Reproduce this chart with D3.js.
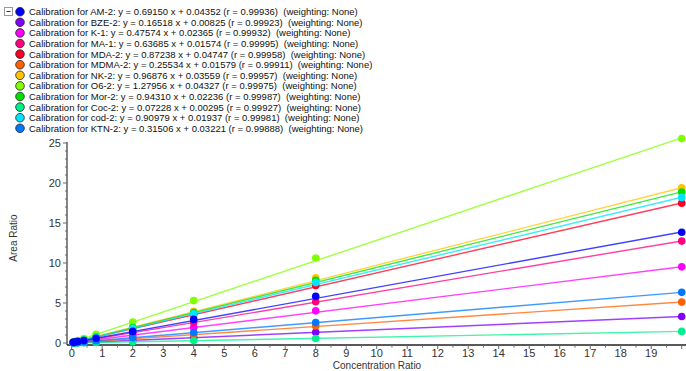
<!DOCTYPE html>
<html>
<head>
<meta charset="utf-8">
<script src="https://cdn.jsdelivr.net/npm/d3@7"></script>
<style>
  body { margin:0; background:#fff; }
  text { font-family: "Liberation Sans", Arial, sans-serif; }
</style>
</head>
<body>
<script>
// calibration data
var names = ["AM-2","BZE-2","K-1","MA-1","MDA-2","MDMA-2","NK-2","O6-2","Mor-2","Coc-2","cod-2","KTN-2"];
var slopes = [0.69150,0.16518,0.47574,0.63685,0.87238,0.25534,0.96876,1.27956,0.94310,0.07228,0.90979,0.31506];
var intercepts = [0.04352,0.00825,0.02365,0.01574,0.04747,0.01579,0.03559,0.04327,0.02236,0.00295,0.01937,0.03221];
var rvals = ["0.99936","0.99923","0.99932","0.99995","0.99958","0.99911","0.99957","0.99975","0.99987","0.99927","0.99981","0.99888"];
var colors = ["#0000ff","#8000ff","#ff00ff","#ff0080","#ff0024","#ff6000","#ffc400","#80ff00","#00e000","#00f08c","#00e4ff","#0078ff"];
var concs = [0.05,0.1,0.2,0.4,0.8,2,4,8,20];
var areas = [
  [0.08,0.11,0.18,0.32,0.60,1.45,2.95,5.85,13.85],
  [0.02,0.03,0.04,0.07,0.14,0.34,0.68,1.33,3.31],
  [0.05,0.07,0.12,0.21,0.40,0.98,1.95,4.02,9.52],
  [0.05,0.08,0.14,0.27,0.52,1.29,2.58,5.15,12.74],
  [0.09,0.13,0.22,0.40,0.75,1.80,3.55,7.20,17.48],
  [0.03,0.04,0.07,0.12,0.22,0.53,1.05,2.12,5.11],
  [0.08,0.13,0.23,0.43,0.82,1.98,3.95,8.15,19.39],
  [0.11,0.17,0.30,0.56,1.10,2.62,5.30,10.62,25.55],
  [0.07,0.12,0.21,0.40,0.78,1.92,3.80,7.85,18.88],
  [0.01,0.01,0.02,0.03,0.06,0.15,0.30,0.56,1.45],
  [0.06,0.11,0.20,0.38,0.75,1.84,3.66,7.55,18.20],
  [0.05,0.06,0.10,0.16,0.29,0.67,1.30,2.55,6.33]
];
var xTicks = d3.range(0,20);
var yTicks = [0,5,10,15,20,25];

var W=686, H=371;
var svg = d3.select("body").append("svg").attr("width",W).attr("height",H);

var x = d3.scaleLinear().domain([-0.154,20.14]).range([67,686]);
var y = d3.scaleLinear().domain([-0.25,25.125]).range([345,142]);

// legend
var leg = svg.append("g");
leg.append("rect").attr("x",4.5).attr("y",7.5).attr("width",8).attr("height",8)
  .attr("fill","#fff").attr("stroke","#999");
leg.append("line").attr("x1",6.5).attr("x2",10.5).attr("y1",11.5).attr("y2",11.5).attr("stroke","#333");
names.forEach(function(n,i){
  var ly = 11.7 + i*10.6;
  leg.append("circle").attr("cx",20).attr("cy",ly).attr("r",4.3)
    .attr("fill",colors[i]).attr("stroke","#222").attr("stroke-width",0.8);
  leg.append("text").attr("x",29).attr("y",ly+3.5).attr("font-size","9.5px").attr("fill","#111")
    .attr("xml:space","preserve")
    .text("Calibration for "+n+": y = "+slopes[i].toFixed(5)+" x + "+intercepts[i].toFixed(5)+" (r = "+rvals[i]+")  (weighting: None)");
});

// axes
var yAxis = svg.append("g");
yAxis.append("line").attr("x1",67).attr("x2",67).attr("y1",y(25.125)).attr("y2",345)
  .attr("stroke","#666").attr("stroke-width",1.6);
yAxis.selectAll(".ym").data(d3.range(0,26)).enter().append("line")
  .attr("x1",function(d){return d%5==0?63:65;}).attr("x2",67)
  .attr("y1",function(d){return y(d);}).attr("y2",function(d){return y(d);})
  .attr("stroke","#666");
yAxis.selectAll(".yl").data(yTicks).enter().append("text")
  .attr("x",61).attr("y",function(d){return y(d)+4;}).attr("text-anchor","end")
  .attr("font-size","11px").attr("fill","#333").text(function(d){return d;});
svg.append("text").attr("transform","translate(17,238) rotate(-90)").attr("text-anchor","middle")
  .attr("font-size","10px").attr("fill","#333").text("Area Ratio");

var xAxis = svg.append("g");
xAxis.append("line").attr("x1",67).attr("x2",686).attr("y1",345).attr("y2",345)
  .attr("stroke","#222").attr("stroke-width",1.6);
xAxis.selectAll(".xm").data(d3.range(0,40.5).map(function(d){return d/2;})).enter().append("line")
  .attr("x1",function(d){return x(d);}).attr("x2",function(d){return x(d);})
  .attr("y1",345).attr("y2",function(d){return d%1==0?349:347.5;})
  .attr("stroke","#666");
xAxis.selectAll(".xl").data(xTicks).enter().append("text")
  .attr("x",function(d){return x(d);}).attr("y",357).attr("text-anchor","middle")
  .attr("font-size","11px").attr("fill","#333").text(function(d){return d;});
svg.append("text").attr("x",377).attr("y",369).attr("text-anchor","middle")
  .attr("font-size","10px").attr("fill","#333").text("Concentration Ratio");

// regression lines
var order = [1,2,3,4,5,6,7,8,9,10,11,0];
var lines = svg.append("g");
order.forEach(function(i){
  lines.append("line")
    .attr("x1",x(0)).attr("y1",y(intercepts[i]))
    .attr("x2",x(20)).attr("y2",y(slopes[i]*20+intercepts[i]))
    .attr("stroke",colors[i]).attr("stroke-width",1.4).attr("stroke-opacity",0.75);
});
// points
var pts = svg.append("g");
order.forEach(function(i){
  pts.selectAll(null).data(concs).enter().append("circle")
    .attr("cx",function(d){return x(d);})
    .attr("cy",function(d,j){return y(areas[i][j]);})
    .attr("r",3.8).attr("fill",colors[i]);
});
</script>
</body>
</html>
